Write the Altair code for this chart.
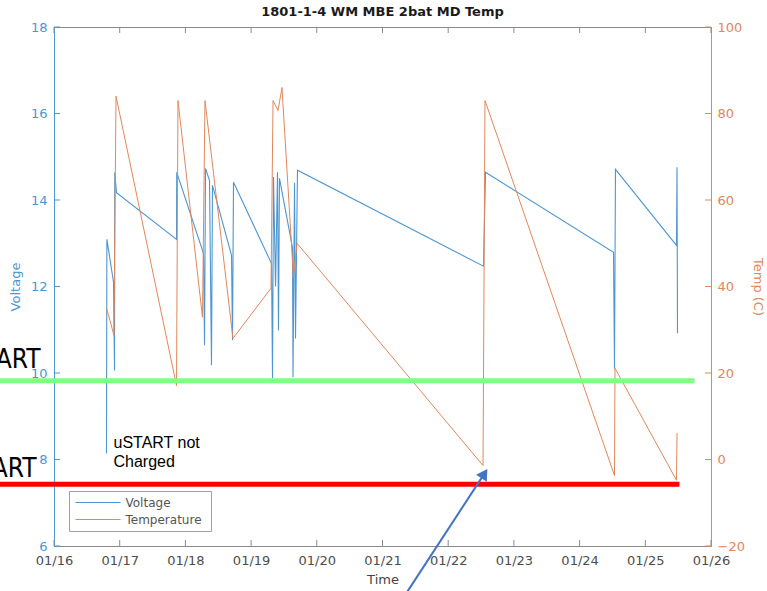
import altair as alt
import pandas as pd

# ---- data -------------------------------------------------------------
# Battery voltage trace: time as fractional day of January, value in volts
volt_day = [16.799, 16.805, 16.906, 16.921, 16.925, 16.951, 17.865, 17.868,
            18.276, 18.291, 18.306, 18.367, 18.397, 18.412, 18.702, 18.717, 18.732,
            19.311, 19.326, 19.341, 19.372, 19.402, 19.417, 19.432, 19.630, 19.638,
            19.661, 19.676, 19.706, 22.537, 22.568, 24.516, 24.531, 24.546, 25.475,
            25.483, 25.490]
volt_v = [8.14, 13.09, 12.10, 10.06, 14.64, 14.17, 13.09, 14.64,
          12.76, 10.64, 14.73, 14.45, 10.18, 14.34, 12.72, 10.76, 14.41,
          12.53, 9.88, 14.53, 12.00, 14.64, 10.98, 14.50, 12.90, 9.90,
          14.40, 10.80, 14.69, 12.47, 14.64, 12.79, 10.10, 14.71, 12.95,
          14.76, 10.92]

# Temperature trace: time as fractional day of January, value in deg C
temp_day = [16.800, 16.913, 16.944, 17.865, 17.887, 18.260, 18.298, 18.724,
            19.303, 19.334, 19.410, 19.470, 19.645, 19.699, 22.530, 22.560,
            24.531, 24.539, 25.475, 25.483]
temp_c = [35.0, 28.7, 84.0, 17.1, 83.0, 32.9, 83.0, 28.0,
          39.6, 83.0, 80.7, 86.0, 42.1, 50.0, -1.4, 83.0,
          -3.7, 21.1, -4.8, 6.1]

day_ticks = list(range(16, 27))
volt_ticks = [6, 8, 10, 12, 14, 16, 18]
temp_ticks = [-20, 0, 20, 40, 60, 80, 100]

# Start-threshold markers (voltage level, where each line stops, colour)
threshold_v = [9.82, 7.43]
threshold_end = [25.75, 25.52]
threshold_color = ["#80ff80", "#ff0000"]
threshold_label = ["START", "START"]

note_text = "uSTART not\nCharged"

# Pointer arrow: tail and head in (day, volts)
arrow_day = [21.381, 22.551]
arrow_v = [4.95, 7.674]

legend_labels = ["Voltage", "Temperature"]

# ---- styling ----------------------------------------------------------
BLUE = "#4d96cf"
ORANGE = "#e0875c"
GREY = "#8a8a8a"
FONT = "DejaVu Sans"
NARROW = "Liberation Sans Narrow, Arial Narrow, DejaVu Sans Condensed, Roboto Condensed, Liberation Sans"
W, H = 657, 519

xs = alt.Scale(domain=[16, 26], nice=False, zero=False)
vs = alt.Scale(domain=[6, 18], nice=False, zero=False)
ts = alt.Scale(domain=[-20, 100], nice=False, zero=False)

x_axis = alt.Axis(values=day_ticks, labelExpr="'01/' + datum.value",
                  labelFlush=False, ticks=False, grid=False,
                  domainColor=GREY, labelColor="#4d4d4d", labelFont=FONT,
                  labelFontSize=13, labelPadding=8, title="Time",
                  titleFont=FONT, titleFontSize=13, titleFontWeight="normal",
                  titleColor="#444444", titlePadding=6)
v_axis = alt.Axis(orient="left", values=volt_ticks, ticks=False, grid=False,
                  domainColor=BLUE, labelColor=BLUE, labelFont=FONT,
                  labelFontSize=13, labelPadding=7, title="Voltage",
                  titleFont=FONT, titleFontSize=13, titleFontWeight="normal",
                  titleColor=BLUE, titlePadding=8)
t_axis = alt.Axis(orient="right", values=temp_ticks, ticks=False, grid=False,
                  domainColor=ORANGE, labelColor=ORANGE, labelFont=FONT,
                  labelFontSize=13, labelPadding=6, title="Temp (C)",
                  titleFont=FONT, titleFontSize=13, titleFontWeight="normal",
                  titleColor=ORANGE, titlePadding=6)


def xenc(field):
    # every layer shares the same time axis definition
    return alt.X(field, scale=xs, axis=x_axis)


volt_df = pd.DataFrame({"day": volt_day, "v": volt_v, "i": range(len(volt_day))})
temp_df = pd.DataFrame({"day": temp_day, "t": temp_c, "i": range(len(temp_day))})

volt_line = alt.Chart(volt_df).mark_line(color=BLUE, strokeWidth=1.1).encode(
    x=xenc("day:Q"),
    y=alt.Y("v:Q", scale=vs, axis=v_axis),
    order=alt.Order("i:Q"),
)
temp_line = alt.Chart(temp_df).mark_line(color=ORANGE, strokeWidth=1.0).encode(
    x=xenc("day:Q"),
    y=alt.Y("t:Q", scale=ts, axis=t_axis),
    order=alt.Order("i:Q"),
)

# inward-pointing tick marks on all four sides
day_df = pd.DataFrame({"day": day_ticks})
bottom_ticks = alt.Chart(day_df).mark_rule(color=GREY).encode(
    x=xenc("day:Q"), y=alt.value(H), y2=alt.value(H - 6))
top_ticks = alt.Chart(day_df).mark_rule(color=GREY).encode(
    x=xenc("day:Q"), y=alt.value(0), y2=alt.value(6))
left_ticks = alt.Chart(pd.DataFrame({"v": volt_ticks})).mark_rule(color=BLUE).encode(
    y=alt.Y("v:Q", scale=vs, axis=None), x=alt.value(0), x2=alt.value(6))
right_ticks = alt.Chart(pd.DataFrame({"t": temp_ticks})).mark_rule(color=ORANGE).encode(
    y=alt.Y("t:Q", scale=ts, axis=None), x=alt.value(W), x2=alt.value(W - 6))

# legend box in the lower-left corner
legend_box = alt.Chart(pd.DataFrame({"k": [0]})).mark_rect(
    fill="white", stroke="#a0a0a0", strokeWidth=1).encode(
    x=alt.value(15.5), x2=alt.value(157.5), y=alt.value(464.5), y2=alt.value(504.5))
legend_layers = []
for row, (lab, col) in enumerate(zip(legend_labels, [BLUE, ORANGE])):
    yy = 475.5 + row * 17
    legend_layers.append(
        alt.Chart(pd.DataFrame({"k": [0]})).mark_rule(color=col, strokeWidth=1.1).encode(
            x=alt.value(21.5), x2=alt.value(66.5), y=alt.value(yy)))
    legend_layers.append(
        alt.Chart(pd.DataFrame({"k": [0]})).mark_text(
            align="left", baseline="middle", font=FONT, fontSize=12,
            color="#555555").encode(x=alt.value(71.5), y=alt.value(yy), text=alt.value(lab)))

# threshold lines drawn over the plot
thr_df = pd.DataFrame({"v": threshold_v, "x0": [15.0, 15.0], "x1": threshold_end,
                       "c": threshold_color})
thresholds = alt.Chart(thr_df).mark_rule(strokeWidth=5).encode(
    x=xenc("x0:Q"), x2="x1:Q",
    y=alt.Y("v:Q", scale=vs, axis=None),
    color=alt.Color("c:N", scale=None),
)

label_top = alt.Chart(pd.DataFrame({"k": [0]})).mark_text(
    align="right", baseline="alphabetic", font=NARROW,
    fontSize=26, color="black").encode(
    x=alt.value(-13.5), y=alt.value(341.3), text=alt.value(threshold_label[0]))
label_bottom = alt.Chart(pd.DataFrame({"k": [0]})).mark_text(
    align="right", baseline="alphabetic", font=NARROW,
    fontSize=26, color="black").encode(
    x=alt.value(-17.5), y=alt.value(450.3), text=alt.value(threshold_label[1]))

note = alt.Chart(pd.DataFrame({"k": [0]})).mark_text(
    align="left", baseline="alphabetic", font="Liberation Sans", fontSize=16,
    color="black", lineBreak="\n", lineHeight=19).encode(
    x=alt.value(59.5), y=alt.value(421.3), text=alt.value(note_text))

# pointer arrow
arrow_df = pd.DataFrame({"day": arrow_day, "v": arrow_v, "i": [0, 1]})
arrow_shaft = alt.Chart(arrow_df).mark_line(color="#4472c4", strokeWidth=2).encode(
    x=xenc("day:Q"),
    y=alt.Y("v:Q", scale=vs, axis=None),
    order=alt.Order("i:Q"),
)
arrow_head = alt.Chart(arrow_df.iloc[[1]]).mark_point(
    shape="triangle-up", filled=True, color="#4472c4", opacity=1, size=160,
    angle=33).encode(
    x=xenc("day:Q"),
    y=alt.Y("v:Q", scale=vs, axis=None),
)

chart = alt.layer(
    volt_line, temp_line, bottom_ticks, top_ticks, left_ticks, right_ticks,
    legend_box, *legend_layers, thresholds, label_top, label_bottom, note,
    arrow_shaft, arrow_head,
).resolve_scale(y="independent").properties(
    width=W, height=H,
    title=alt.TitleParams("1801-1-4 WM MBE 2bat MD Temp", font=FONT, fontSize=13,
                          fontWeight="bold", color="#1a1a1a", offset=2),
    autosize=alt.AutoSizeParams(type="none"),
    padding={"left": 54, "top": 27, "right": 56, "bottom": 45},
).configure_view(stroke=GREY, strokeWidth=1)

chart.save("out.html", embed_options={"renderer": "svg", "actions": False})
